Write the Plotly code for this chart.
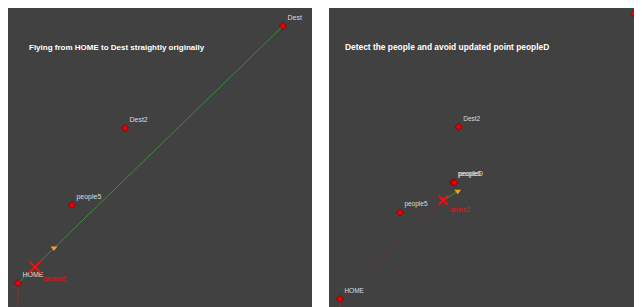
import plotly.graph_objects as go

# World coordinates (HOME at origin)
point_names = ["HOME", "Dest", "Dest2", "people5"]
point_x = [0, 265, 107, 54]
point_y = [0, 257, 155, 78]

# Detected person (right panel)
people_names = ["people6", "peopleD"]
people_x = [102, 103]
people_y = [105, 105]

# Drone and next waypoint
drone_left = (17, 16)
drone_right = (93, 89)
wp_left = (36, 35)
wp_right = (106, 97)

# Drone trail start (below HOME)
trail_x = [-1, 0]
trail_y = [-60, 0]

titles = ["Flying from HOME to Dest straightly originally",
          "Detect the people and avoid updated point peopleD"]

BG = "#414141"
W, H = 634, 299
fig = go.Figure()

def add_panel(xa, ya, names, xs, ys, drone, wp, right, fsize):
    if not right:
        fig.add_trace(go.Scatter(x=[xs[0], xs[1]], y=[ys[0], ys[1]], mode="lines",
                                 line=dict(color="#3f8a3f", width=1), xaxis=xa, yaxis=ya))
    else:
        fig.add_trace(go.Scatter(x=[xs[0], drone[0]], y=[ys[0], drone[1]], mode="lines",
                                 line=dict(color="#7a2a2a", width=1, dash="dot"), xaxis=xa, yaxis=ya))
        fig.add_trace(go.Scatter(x=[drone[0], wp[0]], y=[drone[1], wp[1]], mode="lines",
                                 line=dict(color="#3f8a3f", width=1), xaxis=xa, yaxis=ya))
    fig.add_trace(go.Scatter(x=trail_x, y=trail_y, mode="lines",
                             line=dict(color="#b02020", width=1), xaxis=xa, yaxis=ya))
    fig.add_trace(go.Scatter(x=xs, y=ys, mode="markers+text", text=names,
                             textposition="top right",
                             textfont=dict(color="#dcdcdc", size=fsize, family="Liberation Sans"),
                             marker=dict(symbol="diamond", size=5.5, color="#ee0000",
                                         line=dict(color="#900000", width=1)),
                             xaxis=xa, yaxis=ya))
    if right:
        fig.add_trace(go.Scatter(x=people_x, y=people_y, mode="markers+text", text=people_names,
                                 textposition="top right",
                                 textfont=dict(color="#dcdcdc", size=fsize, family="Liberation Sans"),
                                 marker=dict(symbol="diamond", size=5.5, color="#ee0000",
                                             line=dict(color="#900000", width=1)),
                                 xaxis=xa, yaxis=ya))
    fig.add_trace(go.Scatter(x=[wp[0]], y=[wp[1]], mode="markers",
                             marker=dict(symbol="triangle-down", size=6, color="#f0a020"),
                             xaxis=xa, yaxis=ya))
    fig.add_trace(go.Scatter(x=[drone[0]], y=[drone[1]], mode="markers+text", text=["drone2"],
                             textposition="bottom right",
                             textfont=dict(color="#ee1111", size=fsize, family="Liberation Sans"),
                             marker=dict(symbol="x-thin", size=12 if not right else 9,
                                         line=dict(color="#ee1111", width=2)),
                             xaxis=xa, yaxis=ya))

add_panel("x", "y", point_names, point_x, point_y, drone_left, wp_left, False, 7)
add_panel("x2", "y2", point_names, point_x, point_y, drone_right, wp_right, True, 6.5)

ax = dict(showgrid=False, zeroline=False, showticklabels=False, ticks="", showline=False)
fig.update_layout(
    width=W, height=H, margin=dict(l=0, r=0, t=0, b=0),
    paper_bgcolor="white", plot_bgcolor=BG, showlegend=False,
    xaxis=dict(domain=[0, 304/W], range=[-10, 294], **ax),
    yaxis=dict(domain=[0, 1], range=[-24, 275], **ax),
    xaxis2=dict(domain=[321/W, 1], range=[-9.9, 272], **ax),
    yaxis2=dict(domain=[0, 1], range=[-7.2, 262.2], **ax),
    annotations=[
        dict(text="<b>" + titles[0] + "</b>", xref="paper", yref="paper",
             x=19/W, y=1 - 39/H, xanchor="left", yanchor="middle", showarrow=False,
             font=dict(color="white", size=8, family="Liberation Sans")),
        dict(text="<b>" + titles[1] + "</b>", xref="paper", yref="paper",
             x=335/W, y=1 - 39/H, xanchor="left", yanchor="middle", showarrow=False,
             font=dict(color="white", size=8.4, family="Liberation Sans")),
    ],
)
fig.write_html("out.html")
